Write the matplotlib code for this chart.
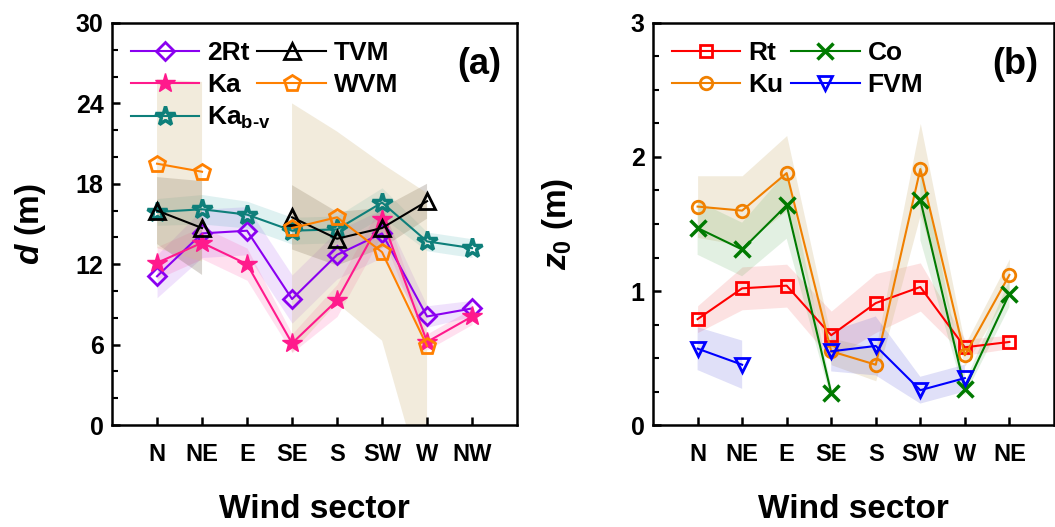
import numpy as np
import matplotlib
matplotlib.use('Agg')
import matplotlib.pyplot as plt
from matplotlib.ticker import MultipleLocator

plt.rcParams['font.family'] = ['Liberation Sans', 'DejaVu Sans']
plt.rcParams['font.weight'] = 'bold'
plt.rcParams['mathtext.fontset'] = 'custom'
plt.rcParams['mathtext.rm'] = 'Liberation Sans:bold'
plt.rcParams['mathtext.it'] = 'Liberation Sans:italic:bold'
plt.rcParams['mathtext.bf'] = 'Liberation Sans:bold'

nan = np.nan

# panel (a): zero-plane displacement d (m)
sectors_a = ['N', 'NE', 'E', 'SE', 'S', 'SW', 'W', 'NW']
rt2 = [11.1, 14.3, 14.5, 9.4, 12.7, 14.3, 8.1, 8.7]
rt2_err = [1.6, 1.8, 1.8, 1.8, 1.8, 1.8, 0.8, 0.6]
ka = [12.1, 13.6, 12.0, 6.1, 9.3, 15.4, 6.2, 8.1]
ka_err = [1.2, 1.2, 1.2, 0.7, 1.2, 1.2, 0.6, 0.6]
kabv = [15.9, 16.1, 15.7, 14.5, 14.6, 16.6, 13.7, 13.2]
kabv_err = [1.0, 1.1, 1.0, 1.0, 1.0, 1.1, 0.7, 0.7]
tvm = [16.0, 14.7, nan, 15.5, 13.9, 14.7, 16.7, nan]
tvm_err = [2.5, 3.5, nan, 2.4, 2.0, 1.5, 1.3, nan]
wvm = [19.5, 18.9, nan, 14.7, 15.5, 12.9, 5.9, nan]
wvm_err = [6.3, 6.7, nan, 9.3, 6.4, 6.6, 11.4, nan]

# panel (b): roughness length z0 (m)
sectors_b = ['N', 'NE', 'E', 'SE', 'S', 'SW', 'W', 'NE']
rt = [0.79, 1.02, 1.04, 0.67, 0.91, 1.03, 0.58, 0.62]
rt_err = [0.1, 0.16, 0.16, 0.18, 0.22, 0.18, 0.06, 0.05]
ku = [1.63, 1.60, 1.88, 0.55, 0.45, 1.91, 0.52, 1.12]
ku_err = [0.23, 0.26, 0.28, 0.1, 0.12, 0.34, 0.08, 0.12]
co = [1.47, 1.31, 1.64, 0.24, nan, 1.68, 0.27, 0.98]
co_err = [0.2, 0.2, 0.25, 0.05, nan, 0.3, 0.05, 0.1]
fvm = [0.57, 0.45, nan, 0.55, 0.59, 0.26, 0.35, nan]
fvm_err = [0.16, 0.18, nan, 0.15, 0.22, 0.1, 0.1, nan]


def series(ax, x, y, err, color, band, balpha, marker, ms, label, mfc='none', mew=2.0):
    y = np.array(y, dtype=float)
    err = np.array(err, dtype=float)
    ax.fill_between(x, y - err, y + err, color=band, alpha=balpha, lw=0, zorder=1)
    ax.plot(x, y, color=color, lw=1.5, marker=marker, ms=ms, mfc=mfc,
            mec=color, mew=mew, label=label, zorder=3)


def style(ax, ylim, major, minor, labels):
    ax.set_xlim(0, 9)
    ax.set_ylim(*ylim)
    ax.set_xticks(np.arange(1, 9))
    ax.set_xticklabels(labels)
    ax.yaxis.set_major_locator(MultipleLocator(major))
    ax.yaxis.set_minor_locator(MultipleLocator(minor))
    ax.tick_params(axis='both', which='major', direction='in', length=6, width=1.8,
                   labelsize=17, pad=13)
    ax.tick_params(axis='y', which='major', labelsize=18, pad=6)
    ax.tick_params(axis='y', which='minor', direction='in', length=4, width=1.5)
    ax.tick_params(top=False, right=False)
    for s in ax.spines.values():
        s.set_linewidth(1.8)
    ax.set_xlabel('Wind sector', fontsize=24, fontweight='bold', labelpad=20)


def legend(ax, colsp):
    ax.legend(ncol=2, loc='upper left', frameon=False, fontsize=19, handlelength=2.6,
              columnspacing=colsp, handletextpad=0.3, labelspacing=0.3,
              borderaxespad=0.3, bbox_to_anchor=(0.0, 1.0))


fig = plt.figure(figsize=(10.55, 5.27), dpi=100)
ax1 = fig.add_axes([0.1062, 0.1935, 0.3839, 0.7629])
ax2 = fig.add_axes([0.619, 0.1935, 0.380, 0.7629])

x = np.arange(1, 9)
series(ax1, x, rt2, rt2_err, '#8A00F0', '#A040F0', 0.15, 'D', 9, '2Rt')
series(ax1, x, ka, ka_err, '#FF1A8C', '#FF3399', 0.15, '*', 15, 'Ka', mfc='#FF1A8C', mew=1)
series(ax1, x, kabv, kabv_err, '#0E7F7A', '#2AA5A5', 0.15, '*', 15,
       'Ka$_{\\text{b-v}}$', mew=2.5)
series(ax1, x, tvm, tvm_err, 'black', '#6B5A48', 0.25, '^', 11, 'TVM')
series(ax1, x, wvm, wvm_err, '#FF8000', '#D4BE8C', 0.3, 'p', 12, 'WVM')
style(ax1, (0, 30), 6, 2, sectors_a)
ax1.set_ylabel('$\\it{d}$ (m)', fontsize=24, fontweight='bold', labelpad=20)
legend(ax1, -0.5)
ax1.text(0.96, 0.94, '(a)', transform=ax1.transAxes, ha='right', va='top',
         fontsize=26, fontweight='bold')

series(ax2, x, rt, rt_err, '#FF0000', '#F04040', 0.15, 's', 8, 'Rt')
series(ax2, x, ku, ku_err, '#F08000', '#D4BE8C', 0.3, 'o', 9, 'Ku')
series(ax2, x, co, co_err, '#007A00', '#40A040', 0.15, 'x', 12, 'Co', mew=2.5)
series(ax2, x, fvm, fvm_err, '#0000FF', '#3030D0', 0.15, 'v', 10, 'FVM')
style(ax2, (0, 3), 1, 0.25, sectors_b)
ax2.set_ylabel('$\\it{z}_{\\mathregular{0}}$ (m)', fontsize=24, fontweight='bold', labelpad=40)
legend(ax2, 0.3)
ax2.text(0.96, 0.94, '(b)', transform=ax2.transAxes, ha='right', va='top',
         fontsize=26, fontweight='bold')

fig.savefig('out.png', dpi=100)
